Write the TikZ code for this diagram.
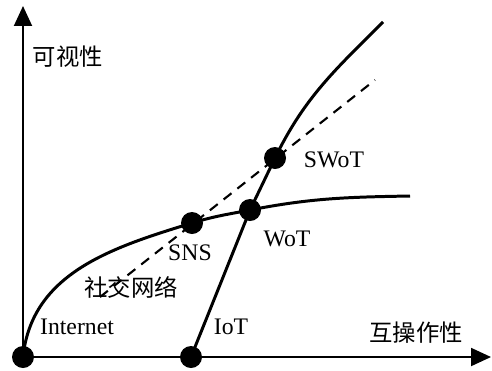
\documentclass[tikz,border=0pt]{standalone}
\usepackage{fontspec}
\setmainfont{Liberation Serif}
\newfontfamily\cjk{Noto Sans CJK SC}
\usetikzlibrary{arrows.meta}

\begin{document}
\begin{tikzpicture}[x=0.02cm, y=0.02cm,
        axis/.style={line width=1.1pt, -{Triangle[length=0.4cm,width=0.36cm]}},
        curve/.style={line width=1.7pt},
        dot/.style={circle, fill=black, inner sep=0pt, minimum size=0.44cm},
        lbl/.style={inner sep=0pt, font=\fontsize{13.5}{16}\selectfont},
        zh/.style={inner sep=0pt, font=\fontsize{13.3}{16}\selectfont\cjk}]
        \useasboundingbox (0,0) rectangle (492,370);

        % the points
        \coordinate (O) at (23,13);
        \coordinate (Ytip) at (23,364);
        \coordinate (Xtip) at (491,13);
        \coordinate (I) at (191,13);
        \coordinate (S) at (192,147);
        \coordinate (W) at (250,160);
        \coordinate (SW) at (275,212);
        \coordinate (Iend) at (410,174);
        \coordinate (Wend) at (383,348);
        \coordinate (Da) at (100,73);
        \coordinate (Db) at (375,290);

        % axes
        \draw [axis] (O) -- (Ytip);
        \draw [axis] (O) -- (Xtip);

        % the dashed line
        \draw [line width=1.2pt, dash pattern=on 0.2cm off 0.15cm] (Da) -- (Db);

        % internet curve
        \draw [curve] (O) to[out=84,in=197] (S) to[out=17,in=191] (W) to[out=11,in=181] (Iend);

        % iot curve
        \draw [curve] (I) -- (W) -- (SW) to[out=64,in=225] (Wend);

        % the dots
        \node[dot] (o) at (O) {};
        \node[dot] (iot) at (I) {};
        \node[dot] (sns) at (S) {};
        \node[dot] (wot) at (W) {};
        \node[dot] (swot) at (SW) {};

        % labels
        \node[zh] (vis) at (68,313) {可视性};
        \node[zh] (inter) at (416,37) {互操作性};
        \node[zh] (social) at (131,83) {社交网络};
        \node[lbl] (linternet) at (77,43) {Internet};
        \node[lbl] (liot) at (231,43) {IoT};
        \node[lbl] (lsns) at (190,117) {SNS};
        \node[lbl] (lwot) at (287,131) {WoT};
        \node[lbl] (lswot) at (334,210) {SWoT};
    \end{tikzpicture}
\end{document}
